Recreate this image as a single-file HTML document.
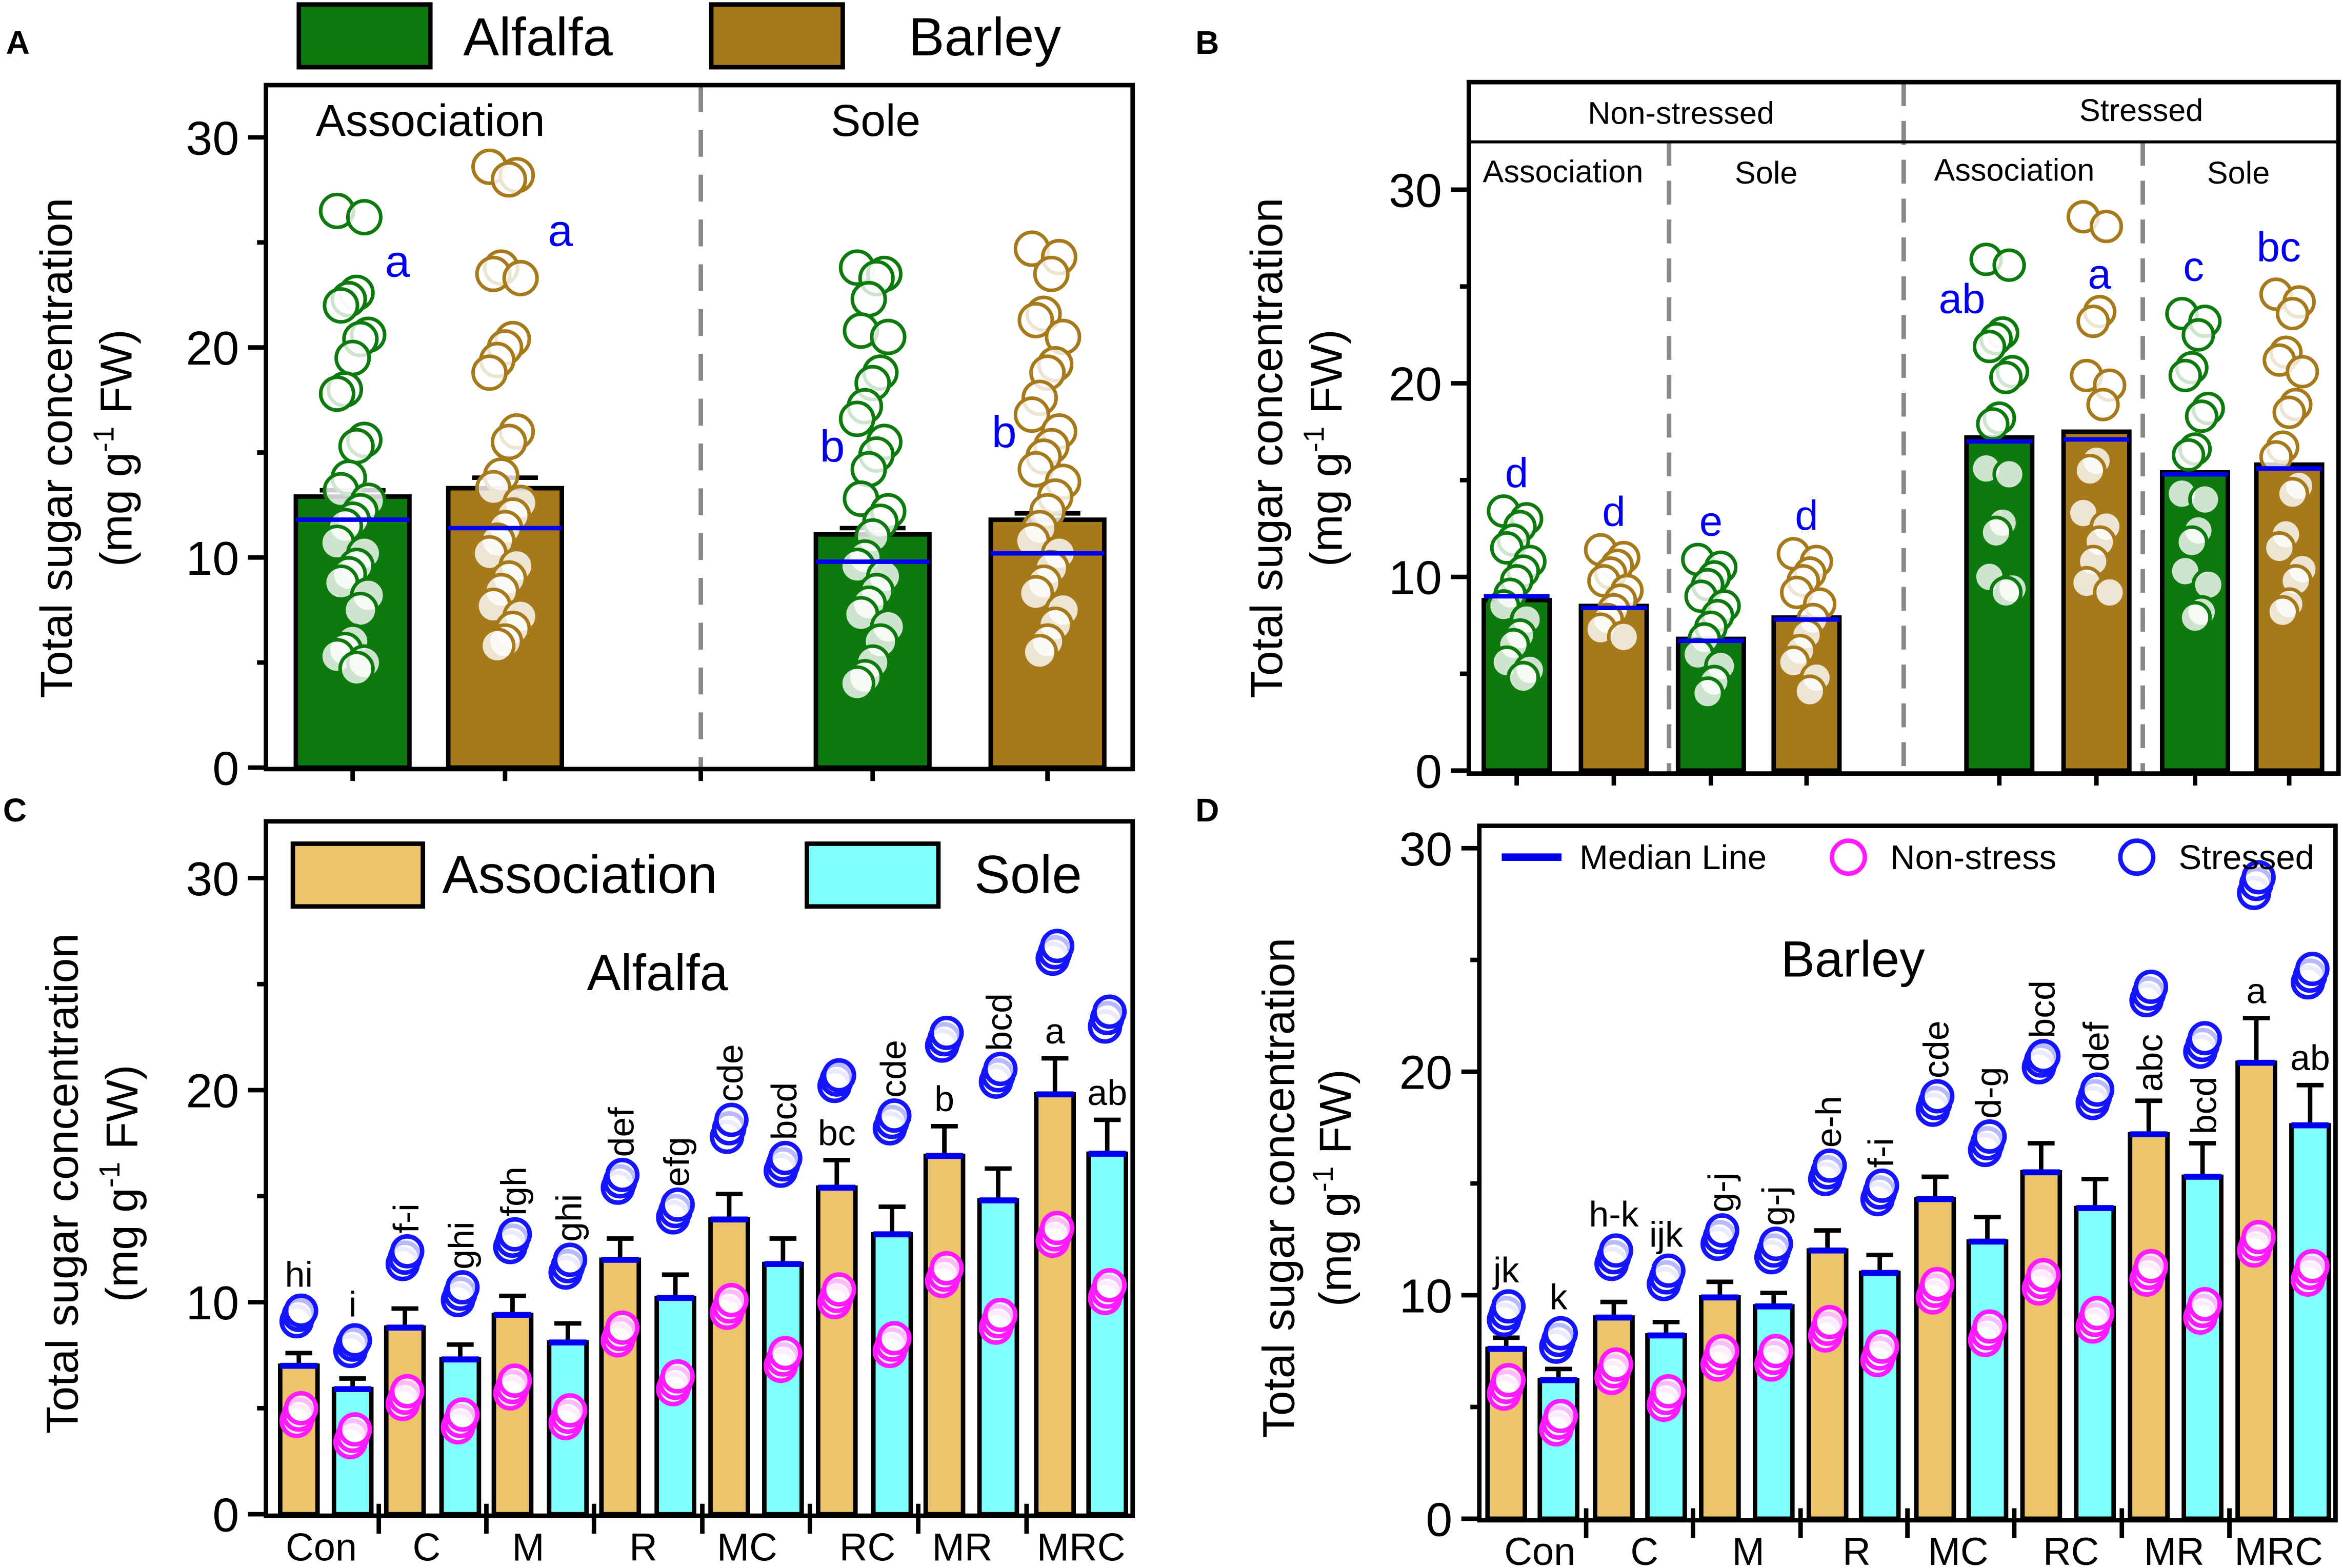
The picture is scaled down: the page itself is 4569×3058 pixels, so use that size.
<!DOCTYPE html>
<html><head><meta charset="utf-8"><style>
html,body{margin:0;padding:0;background:#fff}
svg{display:block}
text{font-family:"Liberation Sans",Arial,sans-serif}
</style></head><body>
<svg id="fig" xmlns="http://www.w3.org/2000/svg" width="4569" height="3058" viewBox="0 0 1568 1050" preserveAspectRatio="none">
<g id="root"></g>
</svg>
<script>
// ---------- DATA ----------
// Panel A
const aGroups = ["Association","Association","Sole","Sole"];
const aBars = [12.9, 13.3, 11.1, 11.8];
const aErr = [0.3, 0.5, 0.3, 0.3];
const aMedian = [11.8, 11.4, 9.8, 10.2];
const aLetters = ["a","a","b","b"];
const aPts0 = [26.5,26.2,22.6,22.3,22.0,20.6,20.4,19.5,18.0,17.8,15.6,15.3,13.8,13.2,12.7,12.2,11.8,11.5,10.7,10.2,9.6,9.2,8.8,8.2,7.5,6.0,5.6,5.3,5.0,4.7];
const aPts1 = [28.6,28.2,28.0,23.8,23.5,23.3,20.4,20.0,19.4,18.8,16.0,15.5,13.9,13.3,12.6,12.0,11.4,10.8,10.2,9.6,9.0,8.4,7.7,7.2,6.6,6.0,5.8];
const aPts2 = [23.8,23.5,23.3,22.3,20.8,20.5,18.8,18.3,17.2,16.6,15.5,14.9,14.2,12.8,12.2,11.7,11.0,10.0,9.6,9.1,8.4,7.8,7.3,6.7,6.0,5.0,4.3,4.0];
const aPts3 = [24.7,24.3,23.5,21.6,21.3,20.5,19.2,18.8,17.6,16.8,16.0,15.3,14.8,14.2,13.6,12.9,12.2,11.4,10.8,10.2,9.5,8.8,8.3,7.5,6.8,6.0,5.5];
// Panel B
const bBars = [8.8, 8.5, 6.8, 7.9, 17.2, 17.5, 15.4, 15.8];
const bMedian = [9.0, 8.4, 6.7, 7.8, 17.0, 17.1, 15.3, 15.6];
const bLetters = ["d","d","e","d","ab","a","c","bc"];
const bPts0 = [13.4,13.0,12.6,11.9,11.5,10.8,10.3,9.8,9.1,8.5,7.8,7.0,6.5,5.6,5.2,4.8];
const bPts1 = [11.4,11.0,10.6,10.2,9.8,9.3,8.8,8.3,7.8,7.3,6.9];
const bPts2 = [10.9,10.5,10.0,9.6,9.0,8.5,8.0,7.4,6.8,6.0,5.4,4.6,4.0];
const bPts3 = [11.2,10.8,10.2,9.8,9.2,8.6,7.8,7.0,6.2,5.6,4.8,4.1];
const bPts4 = [26.4,26.1,22.6,22.3,21.9,20.6,20.3,18.2,17.9,15.6,15.3,12.8,12.3,10.0,9.4,9.2];
const bPts5 = [28.6,28.1,23.7,23.2,20.4,19.9,18.9,16.0,15.5,13.3,12.6,11.8,10.8,9.7,9.2];
const bPts6 = [23.6,23.2,22.5,20.8,20.4,18.7,18.3,16.6,16.3,14.3,14.0,12.4,11.8,10.3,9.6,8.2,7.9];
const bPts7 = [24.6,24.2,23.6,21.6,21.2,20.6,18.9,18.5,16.7,16.2,14.7,14.3,12.2,11.5,10.4,9.8,8.6,8.2];
// Panels C & D
const treatments = ["Con","C","M","R","MC","RC","MR","MRC"];
const cAssoc = [7.0, 8.8, 9.4, 12.0, 13.9, 15.4, 16.9, 19.8];
const cSole  = [5.9, 7.3, 8.1, 10.2, 11.8, 13.2, 14.8, 17.0];
const cAssocErr = [0.6, 0.9, 0.9, 1.0, 1.2, 1.3, 1.4, 1.7];
const cSoleErr  = [0.5, 0.7, 0.9, 1.1, 1.2, 1.3, 1.5, 1.6];
const cStressA = [[9.1,9.4,9.6],[11.8,12.1,12.4],[12.6,12.9,13.2],[15.4,15.7,16.0],[17.8,18.2,18.6],[20.2,20.5,20.7],[22.1,22.4,22.7],[26.2,26.5,26.8]];
const cStressS = [[7.7,8.0,8.2],[10.1,10.4,10.7],[11.4,11.7,12.0],[14.0,14.3,14.6],[16.2,16.5,16.8],[18.2,18.5,18.8],[20.4,20.7,21.0],[23.0,23.4,23.7]];
const cNonA = [[4.4,4.7,5.0],[5.2,5.5,5.8],[5.7,6.0,6.3],[8.2,8.5,8.8],[9.5,9.8,10.1],[10.0,10.3,10.6],[11.0,11.3,11.6],[12.9,13.2,13.5]];
const cNonS = [[3.4,3.7,4.0],[4.1,4.4,4.7],[4.3,4.6,4.9],[5.9,6.2,6.5],[7.0,7.3,7.6],[7.7,8.0,8.3],[8.8,9.1,9.4],[10.2,10.5,10.8]];
const cLetA = ["hi","f-i","fgh","def","cde","bc","b","a"];
const cLetS = ["i","ghi","ghi","efg","bcd","cde","bcd","ab"];
const dAssoc = [7.6, 9.0, 9.9, 12.0, 14.3, 15.5, 17.2, 20.4];
const dSole  = [6.2, 8.2, 9.5, 11.0, 12.4, 13.9, 15.3, 17.6];
const dAssocErr = [0.5, 0.7, 0.7, 0.9, 1.0, 1.3, 1.5, 2.0];
const dSoleErr  = [0.5, 0.6, 0.6, 0.8, 1.1, 1.3, 1.5, 1.8];
const dStressA = [[8.9,9.2,9.5],[11.4,11.7,12.0],[12.3,12.6,12.9],[15.2,15.5,15.8],[18.3,18.6,18.9],[20.2,20.5,20.7],[23.2,23.5,23.8],[28.0,28.4,28.7]];
const dStressS = [[7.7,8.0,8.3],[10.5,10.8,11.1],[11.7,12.0,12.3],[14.3,14.6,14.9],[16.5,16.8,17.1],[18.6,18.9,19.2],[20.9,21.2,21.5],[24.0,24.3,24.6]];
const dNonA = [[5.6,5.9,6.2],[6.3,6.6,6.9],[6.9,7.2,7.5],[8.2,8.5,8.8],[9.9,10.2,10.5],[10.3,10.6,10.9],[10.7,11.0,11.3],[12.0,12.3,12.6]];
const dNonS = [[4.0,4.3,4.6],[5.1,5.4,5.7],[6.9,7.2,7.5],[7.1,7.4,7.7],[8.0,8.3,8.6],[8.6,8.9,9.2],[9.0,9.3,9.6],[10.7,11.0,11.3]];
const dLetA = ["jk","h-k","g-j","e-h","cde","bcd","abc","a"];
const dLetS = ["k","ijk","g-j","f-i","d-g","def","bcd","ab"];
const yTicks = [0, 10, 20, 30];

// ---------- HELPERS ----------
const NS = "http://www.w3.org/2000/svg";
const root = document.getElementById("root");
function el(tag, attrs, parent, txt) {
  const e = document.createElementNS(NS, tag);
  for (const k in attrs) e.setAttribute(k, attrs[k]);
  if (txt !== undefined) e.textContent = txt;
  (parent || root).appendChild(e);
  return e;
}
function grp(name, parent) {
  const g = document.createElementNS(NS, "g");
  
  
  (parent || root).appendChild(g);
  return g;
}
function scale(y0px, y30px) { return v => y0px + (y30px - y0px) * v / 30; }
const GREEN = "#0d7a0d", BROWN = "#a6791a", TAN = "#ecc56a", CYAN = "#80ffff", BLUE = "#1414ff", MAG = "#ff1aff", DBLUE = "#0000ee";

function yAxis(g, x, ys, fs, tickLen) {
  yTicks.forEach(t => {
    const y = ys(t);
    const l = el("line", {x1: x - tickLen, x2: x, y1: y, y2: y, stroke: "#000", "stroke-width": 3}, g);
    
    
    const tx = el("text", {x: x - tickLen - 6, y: y + fs * 0.36, "font-size": fs, "text-anchor": "end"}, g, String(t));
    
    
  });
  [5, 15, 25].forEach(t => {
    const y = ys(t);
    const l = el("line", {x1: x - tickLen / 2, x2: x, y1: y, y2: y, stroke: "#000", "stroke-width": 3}, g);
    
    
  });
}
function yTitle(g, x1, x2, cy, fs) {
  const t1 = el("text", {x: 0, y: 0, "font-size": fs, "text-anchor": "middle", transform: `translate(${x1},${cy}) rotate(-90)`}, g, "Total sugar concentration");
  
  
  const t2 = el("text", {x: 0, y: 0, "font-size": fs, "text-anchor": "middle", transform: `translate(${x2},${cy}) rotate(-90)`}, g);
  
  
  el("tspan", {}, t2, "(mg  g");
  el("tspan", {dy: -fs * 0.4, "font-size": fs * 0.65}, t2, "-1");
  el("tspan", {dy: fs * 0.4}, t2, " FW)");
}
function scatter(g, cx, vals, ys, r, color, name, spread) {
  vals.forEach((v, i) => {
    const off = (((i * 7) % 9) - 4) * spread;
    const c = el("circle", {cx: cx + off, cy: ys(v), r: r, fill: "#fff", "fill-opacity": 0.8, stroke: color, "stroke-width": 2.4}, g);
    
    
  });
}
function panelLetter(x, y, s) {
  const t = el("text", {x: x, y: y, "font-size": 22, "font-weight": "bold"}, root, s);
  
  
}

// ---------- PANEL A ----------
(function () {
  const g = grp("panel-a");
  const ys = scale(514, 92);
  const L = 178, R = 758, T = 57, B = 515;
  const cx = [236, 338, 584, 701];
  const pts = [aPts0, aPts1, aPts2, aPts3];
  const cols = [GREEN, BROWN, GREEN, BROWN];
  const labDx = [30, 37, -27, -29], labDy = [44, 53, 130, 133];
  const w = 76;
  const dl = el("line", {x1: 469, x2: 469, y1: T, y2: B, stroke: "#888", "stroke-width": 3, "stroke-dasharray": "18,12"}, g);
   
  aBars.forEach((v, i) => {
    const b = el("rect", {x: cx[i] - w / 2, y: ys(v), width: w, height: ys(0) - ys(v), fill: cols[i], stroke: "#000", "stroke-width": 3}, g);
    
    
    const e = el("path", {d: `M${cx[i]},${ys(v)}V${ys(v + aErr[i])}M${cx[i] - 22},${ys(v + aErr[i])}H${cx[i] + 22}`, stroke: "#000", "stroke-width": 3, fill: "none"}, g);
     
    scatter(g, cx[i], pts[i], ys, 11, cols[i], 'data-point', 2.6);
    const m = el("line", {x1: cx[i] - w / 2, x2: cx[i] + w / 2, y1: ys(aMedian[i]), y2: ys(aMedian[i]), stroke: DBLUE, "stroke-width": 3}, g);
     
    const top = Math.max(...pts[i]);
    const t = el("text", {x: cx[i] + labDx[i], y: ys(top) + labDy[i], "font-size": 30, fill: DBLUE, "text-anchor": "middle"}, g, aLetters[i]);
     
  });
  const fr = el("rect", {x: L, y: T, width: R - L, height: B - T, fill: "none", stroke: "#000", "stroke-width": 3}, g);
   
  cx.forEach(x => {
    const tk = el("line", {x1: x, x2: x, y1: B, y2: B + 8, stroke: "#000", "stroke-width": 3}, g);
     
  });
  const mt = el("line", {x1: 469, x2: 469, y1: B, y2: B + 8, stroke: "#000", "stroke-width": 3}, g);
   
  yAxis(g, L, ys, 32, 12);
  yTitle(g, 48, 88, 300, 30);
  const h1 = el("text", {x: 288, y: 91, "font-size": 30, "text-anchor": "middle"}, g, "Association");
   
  const h2 = el("text", {x: 586, y: 91, "font-size": 30, "text-anchor": "middle"}, g, "Sole");
   
  const lg = grp("legend-a", g);
  const r1 = el("rect", {x: 200, y: 3, width: 88, height: 42, fill: GREEN, stroke: "#000", "stroke-width": 3}, lg);
   
  const t1 = el("text", {x: 310, y: 37, "font-size": 36}, lg, "Alfalfa");
   
  const r2 = el("rect", {x: 476, y: 3, width: 88, height: 42, fill: BROWN, stroke: "#000", "stroke-width": 3}, lg);
   
  const t2 = el("text", {x: 608, y: 37, "font-size": 36}, lg, "Barley");
   
})();

// ---------- PANEL B ----------
(function () {
  const g = grp("panel-b");
  const ys = scale(516, 127);
  const L = 983, R = 1565, T = 55, B = 518;
  const cx = [1015, 1080, 1145, 1209, 1338, 1403, 1469, 1532];
  const pts = [bPts0, bPts1, bPts2, bPts3, bPts4, bPts5, bPts6, bPts7];
  const labDx = [0, 0, 0, 0, -25, 2, -1, -7], labDy = [-16, -16, -16, -16, 36, 48, -22, -22];
  const w = 44;
  [[1117, 95], [1274, T], [1434, 95]].forEach(([x, y0]) => {
    const d = el("line", {x1: x, x2: x, y1: y0, y2: B, stroke: "#888", "stroke-width": 3, "stroke-dasharray": "16,10"}, g);
     
  });
  const hl = el("line", {x1: L, x2: R, y1: 95, y2: 95, stroke: "#000", "stroke-width": 2}, g);
   
  bBars.forEach((v, i) => {
    const col = i % 2 ? BROWN : GREEN;
    const b = el("rect", {x: cx[i] - w / 2, y: ys(v), width: w, height: ys(0) - ys(v), fill: col, stroke: "#000", "stroke-width": 3}, g);
    
    
    scatter(g, cx[i], pts[i], ys, 10, col, 'data-point', 2.2);
    const m = el("line", {x1: cx[i] - w / 2, x2: cx[i] + w / 2, y1: ys(bMedian[i]), y2: ys(bMedian[i]), stroke: DBLUE, "stroke-width": 3}, g);
     
    const top = Math.max(...pts[i]);
    const t = el("text", {x: cx[i] + labDx[i], y: ys(top) + labDy[i], "font-size": 28, fill: DBLUE, "text-anchor": "middle"}, g, bLetters[i]);
     
    const tk = el("line", {x1: cx[i], x2: cx[i], y1: B, y2: B + 8, stroke: "#000", "stroke-width": 3}, g);
     
  });
  const fr = el("rect", {x: L, y: T, width: R - L, height: B - T, fill: "none", stroke: "#000", "stroke-width": 3}, g);
   
  yAxis(g, L, ys, 32, 12);
  yTitle(g, 858, 898, 300, 30);
  [["Non-stressed", 1125, 83], ["Stressed", 1433, 81], ["Association", 1046, 122], ["Sole", 1182, 123], ["Association", 1348, 121], ["Sole", 1498, 123]].forEach(([s, x, y]) => {
    const t = el("text", {x: x, y: y, "font-size": 21, "text-anchor": "middle"}, g, s);
    
    
  });
})();

// ---------- PANELS C & D ----------
function groupedPanel(opts) {
  const g = grp(opts.name);
  const ys = scale(opts.y0, opts.y30);
  const {L, R, T, B, cA, cS, w} = opts;
  opts.assoc.forEach((v, i) => {
    [[cA[i], v, opts.assocErr[i], TAN, 'association', opts.stressA[i], opts.nonA[i], opts.letA[i], opts.onErrA.includes(i)],
     [cS[i], opts.sole[i], opts.soleErr[i], CYAN, 'sole', opts.stressS[i], opts.nonS[i], opts.letS[i], opts.onErrS.includes(i)]].forEach(([x, val, er, col, nm, st, ns, let, onErr]) => {
      const e = el("path", {d: `M${x},${ys(val)}V${ys(val + er)}M${x - 9},${ys(val + er)}H${x + 9}`, stroke: "#000", "stroke-width": 3, fill: "none"}, g);
       
      const b = el("rect", {x: x - w / 2, y: ys(val), width: w, height: ys(0) - ys(val), fill: col, stroke: "#000", "stroke-width": 3}, g);
      
      
      const m = el("line", {x1: x - w / 2, x2: x + w / 2, y1: ys(val), y2: ys(val), stroke: DBLUE, "stroke-width": 4}, g);
       
      st.forEach((s, k) => {
        const c = el("circle", {cx: x + (k - 1) * 1.5, cy: ys(s), r: 10, fill: "#fff", "fill-opacity": 0.7, stroke: BLUE, "stroke-width": 3}, g);
         
      });
      ns.forEach((s, k) => {
        const c = el("circle", {cx: x + (k - 1) * 1.5, cy: ys(s), r: 10, fill: "#fff", "fill-opacity": 0.7, stroke: MAG, "stroke-width": 3}, g);
         
      });
      const top = onErr ? ys(val + er) - 10 : ys(Math.max(...st)) - 16;
      let t;
      if (let.length <= 2 || opts.horiz.includes(let + nm)) {
        t = el("text", {x: x, y: top, "font-size": 24, "text-anchor": "middle"}, g, let);
      } else {
        t = el("text", {x: 0, y: 0, "font-size": 24, transform: `translate(${x + 9},${top + 4}) rotate(-90)`}, g, let);
      }
       
    });
    const lx = (cA[i] + cS[i]) / 2 + opts.labOff[i];
    const tl = el("text", {x: lx, y: B + 30, "font-size": 26, "text-anchor": "middle"}, g, treatments[i]);
     
    if (i > 0) {
      const sx = cA[i] - (cA[i] - cS[i - 1]) / 2;
      const tk = el("line", {x1: sx, x2: sx, y1: B - 8, y2: B + 12, stroke: "#000", "stroke-width": 3}, g);
       
    }
  });
  const fr = el("rect", {x: L, y: T, width: R - L, height: B - T, fill: "none", stroke: "#000", "stroke-width": 3}, g);
   
  yAxis(g, L, ys, 32, 12);
  yTitle(g, opts.tx1, opts.tx2, (T + B) / 2 + 10, 30);
  const ti = el("text", {x: opts.titleX, y: opts.titleY, "font-size": 34, "text-anchor": "middle"}, g, opts.title);
   
  return g;
}
const gc = groupedPanel({name: "panel-c", y0: 1014, y30: 588, L: 178, R: 758, T: 550, B: 1015, w: 25,
  cA: [200, 271, 343, 415, 488, 560, 632, 706], cS: [236, 308, 380, 452, 524, 597, 668, 741],
  assoc: cAssoc, sole: cSole, assocErr: cAssocErr, soleErr: cSoleErr, stressA: cStressA, stressS: cStressS, nonA: cNonA, nonS: cNonS,
  letA: cLetA, letS: cLetS, horiz: [], onErrA: [5, 6, 7], onErrS: [7], labOff: [-3, -4, -8, -3, -6, 2, -6, 0], tx1: 52, tx2: 92, title: "Alfalfa", titleX: 440, titleY: 663});
(function () {
  const lg = grp("legend-c", gc);
  const r1 = el("rect", {x: 196, y: 565, width: 87, height: 42, fill: TAN, stroke: "#000", "stroke-width": 3}, lg);
   
  const t1 = el("text", {x: 296, y: 598, "font-size": 36}, lg, "Association");
   
  const r2 = el("rect", {x: 540, y: 565, width: 88, height: 42, fill: CYAN, stroke: "#000", "stroke-width": 3}, lg);
   
  const t2 = el("text", {x: 652, y: 598, "font-size": 36}, lg, "Sole");
   
})();
const gd = groupedPanel({name: "panel-d", y0: 1017, y30: 568, L: 990, R: 1563, T: 553, B: 1018, w: 25,
  cA: [1008, 1080, 1151, 1223, 1295, 1366, 1438, 1510], cS: [1043, 1115, 1187, 1258, 1330, 1402, 1474, 1546],
  assoc: dAssoc, sole: dSole, assocErr: dAssocErr, soleErr: dSoleErr, stressA: dStressA, stressS: dStressS, nonA: dNonA, nonS: dNonS,
  letA: dLetA, letS: dLetS, horiz: ["h-kassociation", "ijksole"], onErrA: [6, 7], onErrS: [6, 7], labOff: [5, 3, 1, 2, -2, 2, -1, -3], tx1: 866, tx2: 904, title: "Barley", titleX: 1240, titleY: 654});
(function () {
  const lg = grp("legend-d", gd);
  const l = el("line", {x1: 1005, x2: 1045, y1: 574, y2: 574, stroke: DBLUE, "stroke-width": 5}, lg);
   
  const t1 = el("text", {x: 1057, y: 582, "font-size": 23}, lg, "Median Line");
   
  const c1 = el("circle", {cx: 1237, cy: 574, r: 11, fill: "#fff", stroke: MAG, "stroke-width": 3}, lg);
   
  const t2 = el("text", {x: 1265, y: 582, "font-size": 23}, lg, "Non-stress");
   
  const c2 = el("circle", {cx: 1430, cy: 574, r: 11, fill: "#fff", stroke: BLUE, "stroke-width": 3}, lg);
   
  const t3 = el("text", {x: 1458, y: 582, "font-size": 23}, lg, "Stressed");
   
})();

panelLetter(4, 36, "A");
panelLetter(800, 36, "B");
panelLetter(2, 550, "C");
panelLetter(800, 550, "D");
</script>
</body></html>
